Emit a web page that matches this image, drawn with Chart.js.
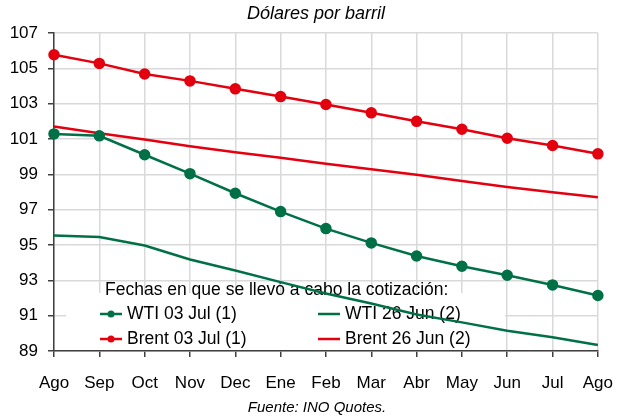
<!DOCTYPE html>
<html>
<head>
<meta charset="utf-8">
<script src="https://cdn.jsdelivr.net/npm/chart.js@4.4.1/dist/chart.umd.min.js"></script>
<style>
  html, body { margin: 0; padding: 0; background: #fff; }
  #wrap { width: 629px; height: 419px; }
</style>
</head>
<body>
<div id="wrap"><canvas id="oilChart" width="629" height="419"></canvas></div>
<script>
// data
const months = ['Ago','Sep','Oct','Nov','Dec','Ene','Feb','Mar','Abr','May','Jun','Jul','Ago'];
const wti03Jul = [101.29, 101.18, 100.11, 99.04, 97.93, 96.89, 95.93, 95.12, 94.38, 93.80, 93.29, 92.74, 92.14];
const wti26Jun = [95.54, 95.45, 94.97, 94.18, 93.56, 92.90, 92.25, 91.69, 91.07, 90.62, 90.15, 89.78, 89.34];
const brent03Jul = [105.77, 105.28, 104.68, 104.29, 103.84, 103.40, 102.95, 102.48, 102.00, 101.55, 101.04, 100.63, 100.16];
const brent26Jun = [101.71, 101.33, 100.97, 100.59, 100.25, 99.94, 99.60, 99.29, 98.98, 98.62, 98.28, 97.98, 97.70];
const yTicks = [89, 91, 93, 95, 97, 99, 101, 103, 105, 107];

const GREEN = '#007047', RED = '#e3000f';
const FONT = '"Liberation Sans", Arial, sans-serif';

// legend box inside the plot + subtitle/footnote
const extras = {
    id: 'extras',
    beforeDatasetsDraw(chart) {
        const c = chart.ctx, a = chart.chartArea;
        c.save();
        c.fillStyle = '#fff';
        c.fillRect(a.left + 12, 293, 505 - a.left - 12, a.bottom - 293 - 1);
        c.fillStyle = '#000';
        c.font = '17.5px ' + FONT;
        c.textBaseline = 'middle';
        c.fillText('Fechas en que se llevó a cabo la cotización:', 105, 290);
        const items = [
            { ds: 0, x: 100, y: 314, dot: true },
            { ds: 1, x: 318, y: 314, dot: false },
            { ds: 2, x: 100, y: 339, dot: true },
            { ds: 3, x: 318, y: 339, dot: false }
        ];
        items.forEach(it => {
            const d = chart.data.datasets[it.ds];
            c.strokeStyle = d.borderColor; c.lineWidth = 2.5;
            c.beginPath(); c.moveTo(it.x, it.y); c.lineTo(it.x + 22, it.y); c.stroke();
            if (it.dot) {
                c.fillStyle = d.borderColor;
                c.beginPath(); c.arc(it.x + 11, it.y, 3.5, 0, Math.PI * 2); c.fill();
            }
            c.fillStyle = '#000';
            c.fillText(d.label, it.x + 27, it.y);
        });
        c.restore();
    },
    afterDraw(chart) {
        const c = chart.ctx;
        c.save();
        c.fillStyle = '#000';
        c.textAlign = 'center';
        c.textBaseline = 'middle';
        c.font = 'italic 18px ' + FONT;
        c.fillText('Dólares por barril', 316, 14);
        c.font = 'italic 15px ' + FONT;
        c.fillText('Fuente: INO Quotes.', 317, 408);
        c.restore();
    }
};

new Chart(document.getElementById('oilChart'), {
    type: 'line',
    data: {
        labels: months,
        datasets: [
            { label: 'WTI 03 Jul (1)', data: wti03Jul, borderColor: GREEN, backgroundColor: GREEN, pointRadius: 4.5, borderWidth: 2.5 },
            { label: 'WTI 26 Jun (2)', data: wti26Jun, borderColor: GREEN, pointRadius: 0, borderWidth: 2.5 },
            { label: 'Brent 03 Jul (1)', data: brent03Jul, borderColor: RED, backgroundColor: RED, pointRadius: 4.5, borderWidth: 2.5 },
            { label: 'Brent 26 Jun (2)', data: brent26Jun, borderColor: RED, pointRadius: 0, borderWidth: 2.5 }
        ]
    },
    options: {
        responsive: false, animation: false,
        layout: { padding: { top: 33, right: 23, left: 0, bottom: 0 } },
        plugins: { legend: { display: false }, tooltip: { enabled: false } },
        elements: { line: { tension: 0 }, point: { pointStyle: 'circle', borderWidth: 0 } },
        scales: {
            x: {
                offset: false,
                grid: { color: '#d9d9d9', lineWidth: 1.5, tickColor: '#404040', tickLength: 6, tickWidth: 1.5 },
                border: { color: '#404040', width: 1.5 },
                ticks: { color: '#000', font: { family: FONT, size: 17 }, padding: 16, maxRotation: 0, autoSkip: false },
                afterFit(s) { s.height = 68; }
            },
            y: {
                min: 89, max: 107,
                afterBuildTicks(s) { s.ticks = yTicks.map(v => ({ value: v })); },
                grid: { color: '#d9d9d9', lineWidth: 1.5, tickColor: '#404040', tickLength: 6, tickWidth: 1.5 },
                border: { color: '#404040', width: 1.5 },
                ticks: { color: '#000', font: { family: FONT, size: 17 }, padding: 10 },
                afterFit(s) { s.width = 54; }
            }
        }
    },
    plugins: [extras]
});
</script>
</body>
</html>
